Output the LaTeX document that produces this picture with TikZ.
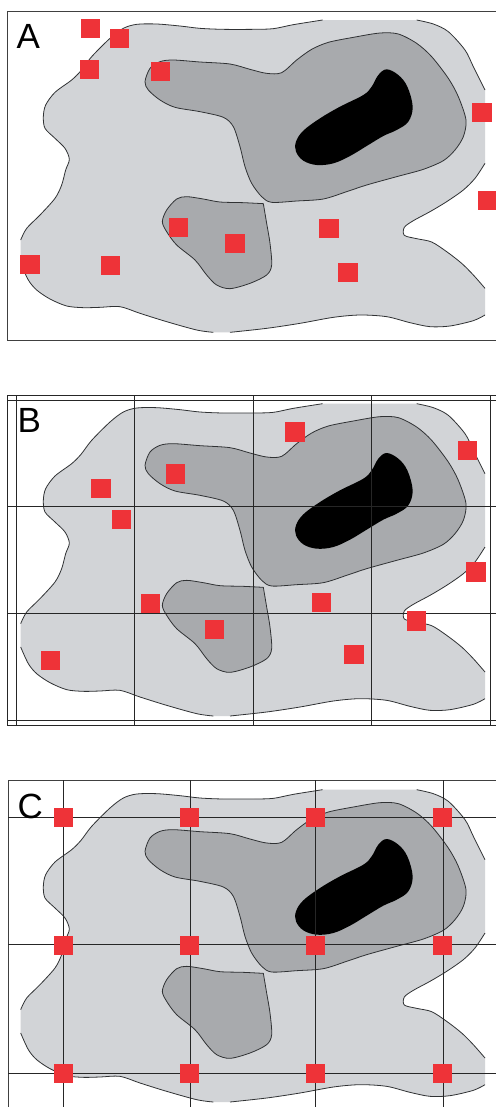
\documentclass[tikz,border=0pt]{standalone}
\usepackage{fontspec}
\setmainfont{Liberation Sans}
\definecolor{lightg}{HTML}{D2D4D7}
\definecolor{midg}{HTML}{A8AAAD}
\definecolor{redsq}{HTML}{EE3338}
\definecolor{outl}{HTML}{303234}
\tikzset{
  contour/.style={draw=outl,line width=0.8pt,line join=round},
  sq/.style={fill=redsq,inner sep=0pt,minimum size=19.6pt,draw=none,rectangle},
  frameline/.style={draw=black!75,line width=1pt},
  gridline/.style={draw=black!85,line width=1pt},
  panellabel/.style={inner sep=0pt,font=\fontsize{35}{35}\selectfont,text=black}
}
\newcommand\segone[1]{#1 plot[smooth,tension=.5] coordinates{(1250,60)(1300,72)(1345,95)(1395,150)(1420,200)(1455,270)}}
\newcommand\segtwo[1]{#1 plot[smooth,tension=.5] coordinates{(1455,490)(1425,535)(1390,570)(1340,605)(1290,635)(1240,662)(1213,682)(1213,706)(1250,716)(1295,726)(1340,755)(1385,790)(1420,825)(1455,865)}}
\newcommand\segthree[1]{#1 plot[smooth,tension=.5] coordinates{(1455,945)(1420,962)(1350,978)(1290,980)(1230,968)(1160,950)(1080,945)(1000,952)(900,970)(800,985)(690,997)}}
\newcommand\segfour[1]{#1 plot[smooth,tension=.5] coordinates{(640,997)(590,990)(500,965)(420,940)(360,920)(300,922)(250,923)(200,918)(150,897)(110,870)(85,840)(62,790)}}
\newcommand\segfive[1]{#1 plot[smooth,tension=.5] coordinates{(62,720)(80,685)(120,645)(165,595)(185,555)(197,510)(208,478)(195,445)(165,415)(135,385)(130,350)(137,315)(165,277)(215,240)(243,212)(275,170)(330,115)(370,85)(410,73)(470,72)(540,78)(600,85)(670,88)(760,88)(820,86)(880,74)(968,60)}}
\newcommand\basemap{%
  \fill[lightg] \segone{} \segtwo{--} \segthree{--} \segfour{--} \segfive{--} -- cycle;
  \draw[contour] \segone{};
  \draw[contour] \segtwo{};
  \draw[contour] \segthree{};
  \draw[contour] \segfour{};
  \draw[contour] \segfive{};
  \path[contour,fill=midg] plot[smooth cycle,tension=.5] coordinates{(520,180)(600,186)(690,192)(750,208)(800,220)(845,218)(890,180)(935,148)(985,127)(1060,112)(1140,99)(1195,102)(1250,130)(1295,170)(1345,235)(1375,290)(1398,360)(1390,410)(1365,450)(1330,482)(1270,508)(1190,530)(1100,555)(1040,575)(970,597)(890,603)(815,607)(785,590)(755,550)(735,500)(720,440)(700,380)(670,352)(600,335)(525,322)(480,300)(445,270)(435,245)(450,205)(480,185)};
  \path[contour,fill=midg] plot[smooth,tension=.5] coordinates{(790,611)(800,670)(810,730)(815,795)(800,825)(750,850)(690,866)(650,855)(620,825)(585,780)(530,735)(500,695)(487,665)(500,630)(530,597)(560,590)(610,597)(660,606)(730,608)(790,611)} -- cycle;
  \fill[black] plot[smooth cycle,tension=.6] coordinates{(1160,208)(1195,225)(1222,260)(1238,320)(1225,365)(1190,390)(1150,408)(1100,438)(1050,468)(1000,490)(950,495)(910,482)(888,455)(888,425)(910,392)(960,355)(1020,320)(1090,285)(1115,260)(1135,225)};
}
\begin{document}
\begin{tikzpicture}[x=0.33333pt,y=-0.33333pt]
\useasboundingbox[fill=white] (0,0) rectangle (1488,3321);
% Panel A
\basemap
\draw[frameline] (1488,33) -- (22,33) -- (22,1022) -- (1488,1022);
\node[panellabel] (labA) at (85,110) {A};
\foreach \n/\p in {a1/{271,86},a2/{358,116},a3/{268,208},a4/{481,214},a5/{1446,337},a6/{1464,602},a7/{987,686},a8/{1044,818},a9/{535,683},a10/{705,731},a11/{90,793},a12/{332,797}}
  \node[sq] (\n) at (\p) {};
% Panel B
\begin{scope}[shift={(0,1155)}]
  \begin{scope}[shift={(0,-4)}]\basemap\end{scope}
  \foreach \yy in {30,45,365,685,1005,1020} \draw[gridline] (22,\yy) -- (1488,\yy);
  \foreach \xx in {22,48,403,761,1115,1470} \draw[gridline] (\xx,30) -- (\xx,1020);
  \node[panellabel] (labB) at (88,106) {B};
  \foreach \n/\p in {b1/{885,141},b2/{1402,196},b3/{527,267},b4/{303,311},b5/{365,403},b6/{1428,561},b7/{965,653},b8/{452,656},b9/{1250,708},b10/{643,734},b11/{1062,808},b12/{152,826}}
    \node[sq] (\n) at (\p) {};
\end{scope}
% Panel C
\begin{scope}[shift={(0,2271)}]
  \begin{scope}[shift={(0,38)}]\basemap\end{scope}
  \draw[frameline] (1488,70) -- (25,70) -- (25,1050);
  \foreach \yy in {180,563,950} \draw[gridline] (25,\yy) -- (1488,\yy);
  \foreach \xx in {190,571,946,1330} \draw[gridline] (\xx,70) -- (\xx,1050);
  \node[panellabel] (labC) at (91,148) {C};
  \foreach \n/\p in {c1/{190,182},c2/{569,182},c3/{947,182},c4/{1327,182},c5/{190,565},c6/{569,565},c7/{947,565},c8/{1327,565},c9/{190,949},c10/{569,949},c11/{947,949},c12/{1327,949}}
    \node[sq] (\n) at (\p) {};
\end{scope}
\end{tikzpicture}
\end{document}
